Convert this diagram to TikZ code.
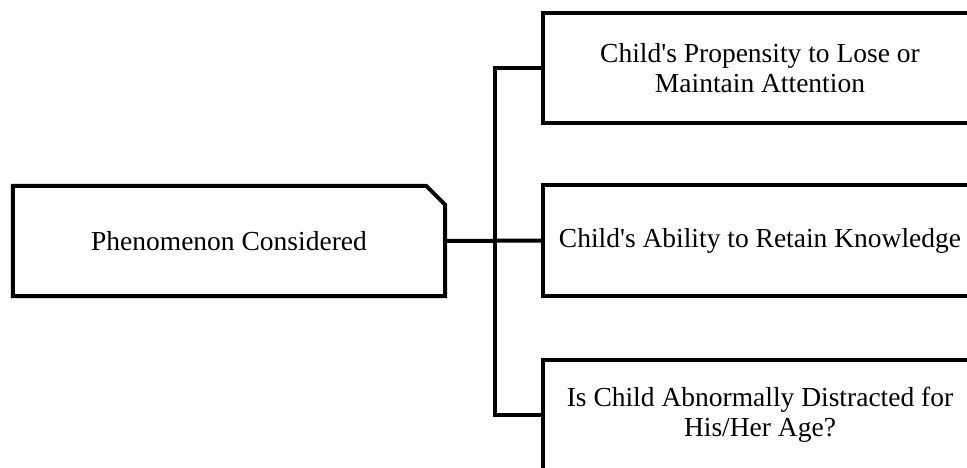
\documentclass[tikz,border=0pt]{standalone}
\usepackage{fontspec}
\setmainfont{Liberation Serif}
\begin{document}
\begin{tikzpicture}[x=1pt,y=-1pt,
  every node/.style={font=\fontsize{27.5}{30}\selectfont, align=center, inner sep=0pt},
  boxnode/.style={draw, line width=4pt, fill=white, minimum width=434pt, minimum height=110pt},
  link/.style={line width=4pt, line join=miter}]
\useasboundingbox (0,0) rectangle (967,468);
\clip (0,0) rectangle (967,468);
% left box with chamfered corner
\node[minimum width=432pt, minimum height=110pt] (p) at (229,241) {Phenomenon Considered};
\draw[link] (p.south west) -- (p.north west) -- ([xshift=-19pt]p.north east)
  -- ([yshift=-19pt]p.north east) -- (p.south east) -- cycle;
% right boxes
\node[boxnode] (t) at (760,68.5) {Child\textquotesingle s Propensity to Lose or\\Maintain Attention};
\node[boxnode] (m) at (760,240.5) {Child\textquotesingle s Ability to Retain Knowledge};
\node[boxnode] (b) at (760,414.5) {Is Child Abnormally Distracted for\\His/Her Age?};
\coordinate (j) at (495,241);
\draw[link] (p.east) -- (m.west);
\draw[link] (t.west) -| (j) |- (b.west);
\end{tikzpicture}
\end{document}
